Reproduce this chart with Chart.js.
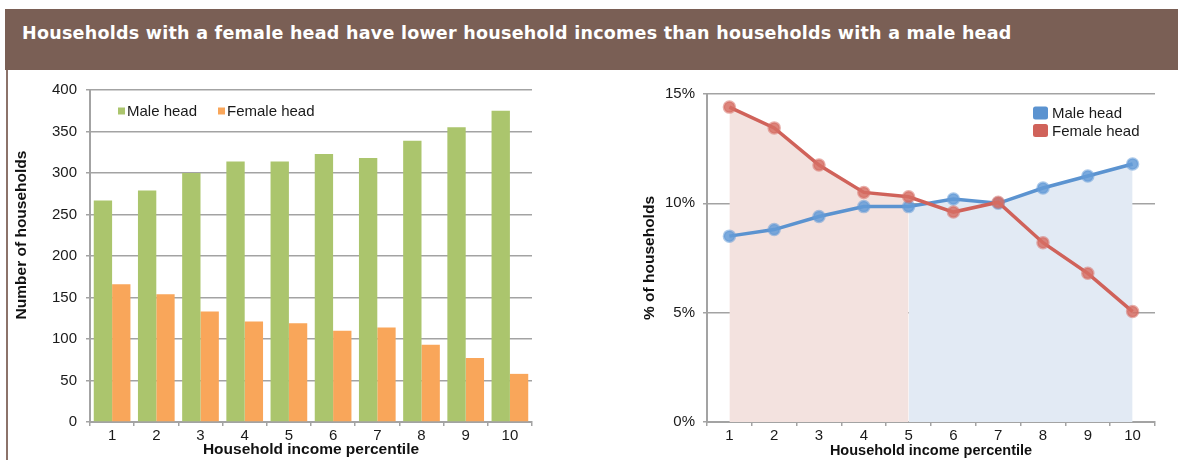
<!DOCTYPE html>
<html lang="en">
  <head>
    <meta charset="UTF-8" />
    <script src="https://cdn.jsdelivr.net/npm/chart.js@4.4.1/dist/chart.umd.min.js"></script>
    <title>Household income by head of household</title>
    <style>
      html, body { margin: 0; padding: 0; background: #fff; }
      .wrap { position: relative; width: 1178px; height: 460px; overflow: hidden; }
      .title_bar {
        position: absolute; left: 5px; top: 9px; width: 1173px; height: 61px;
        background: #7a5f55; box-sizing: border-box; padding: 13px 0 0 17px;
      }
      .title_bar h1 {
        display: inline-block;
        margin: 0; color: #fff; font: bold 17.5px "DejaVu Sans", "Lato", sans-serif;
        white-space: nowrap; line-height: 22px;
      }
      .side_line { position: absolute; left: 6px; top: 70px; width: 2px; height: 390px; background: #8c736a; }
      .chart_left { position: absolute; left: 0; top: 72px; width: 560px; height: 388px; }
      .chart_right { position: absolute; left: 580px; top: 72px; width: 598px; height: 388px; }
    </style>
  </head>
  <body>
    <div class="wrap">
      <div class="title_bar">
        <h1 id="title">Households with a female head have lower household incomes than households with a male head</h1>
      </div>
      <div class="side_line"></div>
      <div class="chart_left"><canvas id="barChart"></canvas></div>
      <div class="chart_right"><canvas id="lineChart"></canvas></div>
    </div>

    <script>
      // data
      const percentiles = ["1", "2", "3", "4", "5", "6", "7", "8", "9", "10"];
      const maleCount = [267, 279, 300, 314, 314, 323, 318, 339, 355, 375];
      const femaleCount = [166, 154, 133, 121, 119, 110, 114, 93, 77, 58];
      const malePct = [8.5, 8.8, 9.4, 9.85, 9.85, 10.2, 10.0, 10.7, 11.25, 11.8];
      const femalePct = [14.4, 13.45, 11.75, 10.5, 10.3, 9.6, 10.05, 8.2, 6.8, 5.05];

      // stretch the heading to the width it has in the original
      const h1 = document.getElementById("title");
      const want = 990;
      const got = h1.getBoundingClientRect().width;
      h1.style.letterSpacing = ((want - got) / h1.textContent.length).toFixed(2) + "px";

      const FONT = '"Liberation Sans", Arial, Helvetica, sans-serif';
      const GRID = "#a3a3a3";
      Chart.defaults.font.family = FONT;
      Chart.defaults.color = "#1a1a1a";
      Chart.defaults.animation = false;
      Chart.defaults.events = [];

      // legend drawn inside the plot area
      const boxLegend = {
        id: "boxLegend",
        afterDraw(chart, args, opts) {
          const ctx = chart.ctx;
          const a = chart.chartArea;
          ctx.save();
          ctx.font = "15px " + FONT;
          ctx.textBaseline = "middle";
          opts.items.forEach((it) => {
            const ds = chart.data.datasets[it.index];
            const x = it.fromRight ? a.right - it.x : a.left + it.x;
            const y = a.top + it.y;
            ctx.fillStyle = ds.legendColor || ds.backgroundColor;
            ctx.beginPath();
            if (ctx.roundRect) ctx.roundRect(x, y - opts.h / 2, opts.w, opts.h, opts.r);
            else ctx.rect(x, y - opts.h / 2, opts.w, opts.h);
            ctx.fill();
            ctx.fillStyle = "#1a1a1a";
            ctx.fillText(ds.label, x + opts.w + opts.gap, y + 1);
          });
          ctx.restore();
        },
      };

      // y axis title that sits a bit above the middle of the axis
      const sideTitle = {
        id: "sideTitle",
        afterDraw(chart, args, opts) {
          if (!opts.text) return;
          const ctx = chart.ctx;
          const a = chart.chartArea;
          ctx.save();
          ctx.font = "bold 15.5px " + FONT;
          ctx.fillStyle = "#111";
          ctx.textAlign = "center";
          ctx.textBaseline = "middle";
          ctx.translate(opts.x, (a.top + a.bottom) / 2 - opts.lift);
          ctx.rotate(-Math.PI / 2);
          ctx.fillText(opts.text, 0, 0);
          ctx.restore();
        },
      };

      const barChart = new Chart(document.getElementById("barChart"), {
        type: "bar",
        data: {
          labels: percentiles,
          datasets: [
            { label: "Male head", data: maleCount, backgroundColor: "#abc56d" },
            { label: "Female head", data: femaleCount, backgroundColor: "#f9a65a" },
          ],
        },
        options: {
          responsive: true,
          maintainAspectRatio: false,
          layout: { padding: { left: 0, right: 28, top: 18, bottom: 0 } },
          datasets: { bar: { categoryPercentage: 0.83, barPercentage: 1 } },
          plugins: {
            legend: { display: false },
            tooltip: { enabled: false },
            sideTitle: { text: "Number of households", x: 22, lift: 21 },
            boxLegend: {
              w: 7, h: 7, r: 0, gap: 2,
              items: [
                { index: 0, x: 28, y: 21 },
                { index: 1, x: 128, y: 21 },
              ],
            },
          },
          scales: {
            x: {
              afterFit: (s) => { s.height = 38; },
              grid: { offset: true, drawOnChartArea: false, tickLength: 4, color: GRID, lineWidth: 1.5 },
              border: { color: GRID, width: 2 },
              ticks: { padding: 1, font: { size: 15 } },
              title: {
                display: true, text: "Household income percentile",
                font: { size: 15.5, weight: "bold" }, padding: { top: 0, bottom: 1 }, color: "#111",
              },
            },
            y: {
              min: 0, max: 400,
              afterFit: (s) => { s.width = 90; },
              grid: { color: GRID, lineWidth: 1.5, tickLength: 4 },
              border: { color: GRID, width: 2 },
              ticks: { stepSize: 50, padding: 9, font: { size: 15 } },
            },
          },
        },
        plugins: [boxLegend, sideTitle],
      });

      // shaded halves under each line
      const femaleArea = femalePct.map((v, i) => (i <= 4 ? v : null));
      const maleArea = malePct.map((v, i) => (i >= 4 ? v : null));

      const lineChart = new Chart(document.getElementById("lineChart"), {
        type: "line",
        data: {
          labels: percentiles,
          datasets: [
            {
              label: "Female head", data: femalePct,
              borderColor: "#d0625a", backgroundColor: "rgba(214,110,100,0.85)", legendColor: "#d0625a",
              borderWidth: 3.5, pointRadius: 5.5, pointBorderWidth: 2.5,
              pointBorderColor: "rgba(214,110,100,0.55)", fill: false,
            },
            {
              label: "Male head", data: malePct,
              borderColor: "#5b93d0", backgroundColor: "rgba(100,155,215,0.85)", legendColor: "#5b93d0",
              borderWidth: 3.5, pointRadius: 5.5, pointBorderWidth: 2.5,
              pointBorderColor: "rgba(100,155,215,0.55)", fill: false,
            },
            {
              label: "female area", data: femaleArea, fill: "origin",
              backgroundColor: "#f3e2df", borderWidth: 0, borderColor: "rgba(0,0,0,0)", pointRadius: 0,
            },
            {
              label: "male area", data: maleArea, fill: "origin",
              backgroundColor: "#e2eaf4", borderWidth: 0, borderColor: "rgba(0,0,0,0)", pointRadius: 0,
            },
          ],
        },
        options: {
          responsive: true,
          maintainAspectRatio: false,
          layout: { padding: { left: 0, right: 23, top: 22, bottom: 0 } },
          elements: { line: { tension: 0 } },
          plugins: {
            legend: { display: false },
            tooltip: { enabled: false },
            boxLegend: {
              w: 15, h: 13, r: 2.5, gap: 4,
              items: [
                { index: 1, x: 122, y: 19, fromRight: true },
                { index: 0, x: 122, y: 36.5, fromRight: true },
              ],
            },
          },
          scales: {
            x: {
              offset: true,
              afterFit: (s) => { s.height = 38; },
              grid: { offset: true, drawOnChartArea: false, tickLength: 4, color: GRID, lineWidth: 1.5 },
              border: { color: GRID, width: 2 },
              ticks: { padding: 1, font: { size: 15 } },
              title: {
                display: true, text: "Household income percentile",
                font: { size: 14.5, weight: "bold" }, padding: { top: 0, bottom: 0 }, color: "#111",
              },
            },
            y: {
              min: 0, max: 15,
              afterFit: (s) => { s.width = 127; },
              grid: { color: GRID, lineWidth: 1.5, tickLength: 4 },
              border: { color: GRID, width: 2 },
              ticks: { stepSize: 5, padding: 8, font: { size: 15 }, callback: (v) => v + "%" },
              title: {
                display: true, text: "% of households",
                font: { size: 15.5, weight: "bold" }, padding: { top: 60, bottom: 0 }, color: "#111",
              },
            },
          },
        },
        plugins: [boxLegend],
      });
    </script>
  </body>
</html>
